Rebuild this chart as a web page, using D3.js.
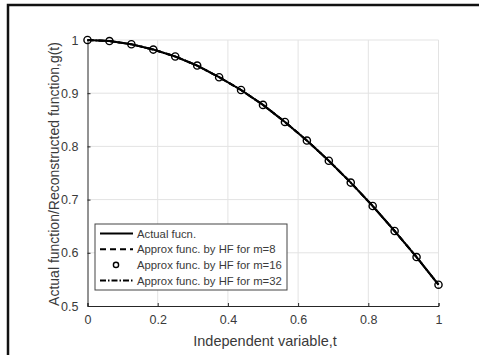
<!DOCTYPE html>
<html>
<head>
<meta charset="utf-8">
<script src="https://cdn.jsdelivr.net/npm/d3@7"></script>
<style>
  body { margin: 0; background: #fff; }
  text { font-family: 'Liberation Sans', Arial, sans-serif; }
</style>
</head>
<body>
<svg id="chart" width="479" height="355"></svg>
<script>
// sample points t = k/16
const tValues = [0, 0.0625, 0.125, 0.1875, 0.25, 0.3125, 0.375, 0.4375, 0.5,
	0.5625, 0.625, 0.6875, 0.75, 0.8125, 0.875, 0.9375, 1];
const actualValues = [1, 0.998, 0.992, 0.982, 0.969, 0.952, 0.930, 0.906, 0.878,
	0.846, 0.811, 0.773, 0.732, 0.688, 0.641, 0.592, 0.540];
const approxM8 = [1, 0.998, 0.992, 0.982, 0.969, 0.952, 0.930, 0.906, 0.878,
	0.846, 0.811, 0.773, 0.732, 0.688, 0.641, 0.592, 0.540];
const approxM16 = [1, 0.998, 0.992, 0.982, 0.969, 0.952, 0.930, 0.906, 0.878,
	0.846, 0.811, 0.773, 0.732, 0.688, 0.641, 0.592, 0.540];
const approxM32 = [1, 0.998, 0.992, 0.982, 0.969, 0.952, 0.930, 0.906, 0.878,
	0.846, 0.811, 0.773, 0.732, 0.688, 0.641, 0.592, 0.540];

const xTicks = [0, 0.2, 0.4, 0.6, 0.8, 1];
const yTicks = [0.5, 0.6, 0.7, 0.8, 0.9, 1];
const legendLabels = ['Actual fucn.', 'Approx func. by HF for m=8',
	'Approx func. by HF for m=16', 'Approx func. by HF for m=32'];

const svg = d3.select('#chart');
const axisColor = '#3a3a3a';

// outer frame (left + top edges only)
svg.append('path')
	.attr('d', 'M8,355V5H479')
	.attr('fill', 'none')
	.attr('stroke', '#111')
	.attr('stroke-width', 2.5);

const x = d3.scaleLinear().domain([0, 1]).range([87.5, 438.5]);
const y = d3.scaleLinear().domain([0.5, 1]).range([306, 40]);

// grid
const grid = svg.append('g');
grid.selectAll('.gx')
	.data(xTicks.slice(1))
	.enter().append('line')
	.attr('x1', d => x(d)).attr('x2', d => x(d))
	.attr('y1', y(0.5)).attr('y2', y(1))
	.attr('stroke', '#e3e3e3').attr('stroke-width', 1);
grid.selectAll('.gy')
	.data(yTicks.slice(1))
	.enter().append('line')
	.attr('x1', x(0)).attr('x2', x(1))
	.attr('y1', d => y(d)).attr('y2', d => y(d))
	.attr('stroke', '#e3e3e3').attr('stroke-width', 1);

// axes
const xAxis = svg.append('g')
	.attr('transform', `translate(0,${y(0.5)})`)
	.call(d3.axisBottom(x).tickValues(xTicks).tickSize(-3).tickPadding(9)
		.tickFormat(d3.format('~g')));
const yAxis = svg.append('g')
	.attr('transform', `translate(${x(0)},0)`)
	.call(d3.axisLeft(y).tickValues(yTicks).tickSize(-3).tickPadding(9)
		.tickFormat(d3.format('~g')));

[xAxis, yAxis].forEach(a => {
	a.select('.domain').attr('stroke', '#262626').attr('stroke-width', 1);
	a.selectAll('.tick line').attr('stroke', '#262626');
	a.selectAll('.tick text')
		.attr('fill', axisColor)
		.style('font-size', '12.5px')
		.style('font-family', "'Liberation Sans', Arial, sans-serif");
});

svg.append('text')
	.attr('x', 265)
	.attr('y', 346)
	.attr('text-anchor', 'middle')
	.attr('fill', axisColor)
	.style('font-size', '14.5px')
	.text('Independent variable,t');

svg.append('text')
	.attr('transform', `translate(59,${(y(0.5) + y(1)) / 2 + 1}) rotate(-90)`)
	.attr('text-anchor', 'middle')
	.attr('fill', axisColor)
	.style('font-size', '14px')
	.text('Actual function/Reconstructed function,g(t)');

// series
const line = values => d3.line()
	.x((d, i) => x(tValues[i]))
	.y(d => y(d))(values);

svg.append('path').attr('d', line(actualValues))
	.attr('fill', 'none').attr('stroke', '#000').attr('stroke-width', 2);
svg.append('path').attr('d', line(approxM8))
	.attr('fill', 'none').attr('stroke', '#000').attr('stroke-width', 2)
	.attr('stroke-dasharray', '6,4');
svg.append('path').attr('d', line(approxM32))
	.attr('fill', 'none').attr('stroke', '#000').attr('stroke-width', 2)
	.attr('stroke-dasharray', '6,2,1.5,2');

svg.append('g').selectAll('circle')
	.data(approxM16)
	.enter().append('circle')
	.attr('cx', (d, i) => x(tValues[i]))
	.attr('cy', d => y(d))
	.attr('r', 3.6)
	.attr('fill', 'none')
	.attr('stroke', '#000')
	.attr('stroke-width', 1.4);

// legend
const legend = svg.append('g').attr('transform', 'translate(95,224)');
legend.append('rect')
	.attr('width', 192).attr('height', 66)
	.attr('fill', '#fff').attr('stroke', '#444').attr('stroke-width', 1);

const styles = ['', '6,4', null, '6,2,1.5,2'];
legendLabels.forEach((label, i) => {
	const row = legend.append('g').attr('transform', `translate(0,${9.5 + i * 15.7})`);
	if (styles[i] === null) {
		row.append('circle').attr('cx', 21).attr('cy', 0).attr('r', 2.6)
			.attr('fill', 'none').attr('stroke', '#000').attr('stroke-width', 1.4);
	} else {
		row.append('line').attr('x1', 5).attr('x2', 38)
			.attr('stroke', '#000').attr('stroke-width', 2)
			.attr('stroke-dasharray', styles[i] || null);
	}
	row.append('text')
		.attr('x', 42).attr('y', 4)
		.attr('fill', axisColor)
		.style('font-size', '11.3px')
		.text(label);
});
</script>
</body>
</html>
